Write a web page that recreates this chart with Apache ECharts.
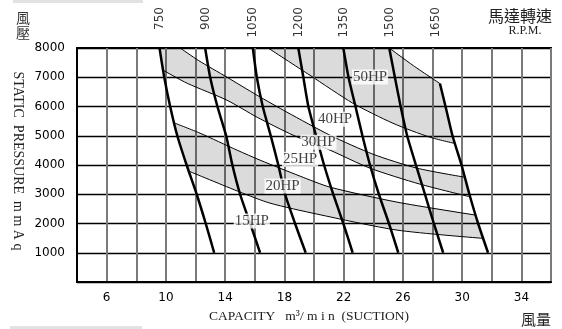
<!DOCTYPE html>
<html><head><meta charset="utf-8">
<script src="https://cdn.jsdelivr.net/npm/echarts@6/dist/echarts.min.js"></script>
<style>html,body{margin:0;padding:0;background:#fff}#c{width:562px;height:329px}</style>
</head><body><div id="c"></div>
<script>
// ---- data ----
const pressureTicks = [1000, 2000, 3000, 4000, 5000, 6000, 7000, 8000];
const capacityTicks = [6, 10, 14, 18, 22, 26, 30, 34];
const rpmValues = [750, 900, 1050, 1200, 1350, 1500, 1650];
const rpmLabelX = [9.62, 12.7, 15.85, 18.95, 22.0, 25.1, 28.2];

const rpm750  = [[9.57,8000],[9.89,7000],[10.29,6000],[10.77,5000],[11.40,4000],[12.08,3000],[12.69,2000],[13.26,1000]];
const rpm900  = [[12.65,8000],[12.99,7000],[13.48,6000],[14.07,5000],[14.49,4000],[15.01,3000],[15.69,2000],[16.36,1000]];
const rpm1050 = [[15.87,8000],[16.14,7000],[16.54,6000],[17.08,5000],[17.59,4000],[18.05,3000],[18.72,2000],[19.44,1000]];
const rpm1200 = [[18.94,8000],[19.28,7000],[19.62,6000],[20.14,5000],[20.68,4000],[21.30,3000],[21.98,2000],[22.61,1000]];
const rpm1350 = [[21.98,8000],[22.33,7000],[22.80,6000],[23.27,5000],[23.78,4000],[24.38,3000],[25.06,2000],[25.69,1000]];
const rpm1500 = [[25.08,8000],[25.46,7000],[25.85,6000],[26.29,5000],[26.88,4000],[27.49,3000],[28.09,2000],[28.72,1000]];
const rpm1650 = [[28.50,6784],[28.88,6000],[29.35,5000],[29.96,4000],[30.49,3000],[31.08,2000],[31.75,1000]];

const hp50 = [[25.08,8000],[26.70,7400],[28.50,6784]];
const hp40 = [[16.90,8000],[19.73,7067],[22.63,6111],[25.33,5428],[27.82,4951],[29.52,4736]];
const hp30 = [[10.97,8000],[12.18,7580],[14.13,7000],[16.16,6384],[18.18,5804],[21.08,5019],[23.98,4370],[26.95,3892],[30.15,3585]];
const hp25 = [[9.82,7238],[11.44,6794],[14.13,6214],[16.16,5633],[18.59,5019],[21.08,4507],[23.78,3892],[27.15,3346],[30.54,2912]];
const hp20 = [[10.62,5428],[12.31,5087],[14.81,4507],[16.36,4165],[19.06,3619],[21.08,3243],[25.60,2731],[30.91,2287]];
const hp15 = [[11.55,3790],[15.01,3073],[17.03,2697],[20.20,2322],[25.60,1775],[31.42,1492]];

const hpNames = ['50HP', '40HP', '30HP', '25HP', '20HP', '15HP'];
const hpLabelAt = [[23.78,7009],[21.42,5565],[20.30,4780],[19.06,4199],[17.88,3278],[15.80,2083]];

// ---- band polygons (built from the lines above) ----
const bandA = [[16.90,8000]].concat(hp50, rpm1650.slice(1,3), hp40.slice().reverse());
const bandB = [rpm750[0]].concat(hp30, [rpm1650[4]], hp25.slice().reverse());
const bandC = hp20.concat(hp15.slice().reverse(), [rpm750[4], rpm750[3]]);

const chart = echarts.init(document.getElementById('c'), null, {renderer: 'canvas'});

function bandSeries(poly) {
  return {
    type: 'custom', coordinateSystem: 'cartesian2d', silent: true, z: 1,
    data: [poly[0]],
    renderItem: function (params, api) {
      return {
        type: 'polygon',
        shape: {points: poly.map(p => api.coord(p))},
        style: {fill: 'rgba(0,0,0,0.14)', stroke: null}
      };
    }
  };
}
function thinLine(d) {
  return {type: 'line', data: d, symbol: 'none', smooth: 0.25, silent: true, z: 3,
          lineStyle: {color: '#000', width: 1}};
}
function rpmLine(d) {
  return {type: 'line', data: d, symbol: 'none', smooth: 0.2, silent: true, z: 4,
          lineStyle: {color: '#000', width: 2.5}};
}

const serif = '"Liberation Serif", "Times New Roman", serif';
const sans = '"DejaVu Sans", sans-serif';
const cjk = '"Noto Sans CJK TC", "Noto Sans CJK SC", sans-serif';

chart.setOption({
  animation: false,
  backgroundColor: '#fff',
  grid: {left: 77, right: 11, top: 48, bottom: 47, show: true, borderColor: '#000', borderWidth: 2, backgroundColor: 'transparent'},
  xAxis: {
    type: 'value', min: 4, max: 36, interval: 2,
    axisLine: {show: true, lineStyle: {color: '#000', width: 2}},
    axisTick: {show: false},
    splitLine: {show: true, lineStyle: {color: '#7a7a7a', width: 2}},
    axisLabel: {formatter: v => capacityTicks.indexOf(v) >= 0 ? String(v) : '', margin: 10,
                fontSize: 12, color: '#000', fontFamily: sans}
  },
  yAxis: {
    type: 'value', min: 0, max: 8000, interval: 1000,
    axisLine: {show: true, lineStyle: {color: '#000', width: 2}},
    axisTick: {show: false},
    splitLine: {show: true, lineStyle: {color: '#000', width: 1.4}},
    axisLabel: {formatter: v => pressureTicks.indexOf(v) >= 0 ? String(v) : '', margin: 12,
                fontSize: 12, color: '#000', fontFamily: sans}
  },
  series: [
    bandSeries(bandA), bandSeries(bandB), bandSeries(bandC),
    thinLine(hp50), thinLine(hp40), thinLine(hp30), thinLine(hp25), thinLine(hp20), thinLine(hp15),
    rpmLine(rpm750), rpmLine(rpm900), rpmLine(rpm1050), rpmLine(rpm1200),
    rpmLine(rpm1350), rpmLine(rpm1500), rpmLine(rpm1650),
    {
      type: 'scatter', symbolSize: 0, silent: true, z: 6, clip: false,
      data: hpLabelAt.map((p, i) => ({value: p, name: hpNames[i]})),
      label: {show: true, position: 'inside', formatter: p => p.name,
              fontFamily: serif, fontSize: 15, color: '#111',
              backgroundColor: '#fff', padding: [0, 1, 0, 1]}
    },
    {
      type: 'scatter', symbolSize: 0, silent: true, z: 6, clip: false,
      data: rpmLabelX.map((x, i) => ({value: [x, 8000], name: String(rpmValues[i])})),
      label: {show: true, position: 'top', distance: 41, rotate: 90, align: 'right', verticalAlign: 'middle',
              formatter: p => p.name, fontFamily: sans, fontSize: 12, color: '#000'}
    }
  ],
  graphic: [
    {type: 'rect', shape: {x: 13, y: 0, width: 130, height: 3}, style: {fill: '#e2e2e2'}},
    {type: 'rect', shape: {x: 10, y: 326, width: 132, height: 3}, style: {fill: '#e2e2e2'}},
    {type: 'text', x: 16, y: 10, style: {text: '風\n壓', font: '14px ' + cjk, fill: '#333', lineHeight: 15, textVerticalAlign: 'top', verticalAlign: 'top'}},
    {type: 'text', x: 520, y: 16, style: {text: '馬達轉速', font: '16px ' + cjk, fill: '#222', textAlign: 'center', align: 'center', textVerticalAlign: 'middle', verticalAlign: 'middle'}},
    {type: 'text', x: 525, y: 31, style: {text: 'R.P.M.', font: '12px ' + serif, fill: '#222', textAlign: 'center', align: 'center', textVerticalAlign: 'middle', verticalAlign: 'middle'}},
    {type: 'text', x: 18, y: 161, rotation: -Math.PI / 2, style: {text: 'STATIC  PRESSURE  m m A q', font: '14px ' + serif, fill: '#222', textAlign: 'center', align: 'center', textVerticalAlign: 'middle', verticalAlign: 'middle'}},
    {type: 'text', x: 309, y: 316, style: {text: 'CAPACITY   m³/ m i n  (SUCTION)', font: '13.5px ' + serif, fill: '#222', textAlign: 'center', align: 'center', textVerticalAlign: 'middle', verticalAlign: 'middle'}},
    {type: 'text', x: 536, y: 319, style: {text: '風量', font: '15px ' + cjk, fill: '#222', textAlign: 'center', align: 'center', textVerticalAlign: 'middle', verticalAlign: 'middle'}}
  ]
});
</script></body></html>
